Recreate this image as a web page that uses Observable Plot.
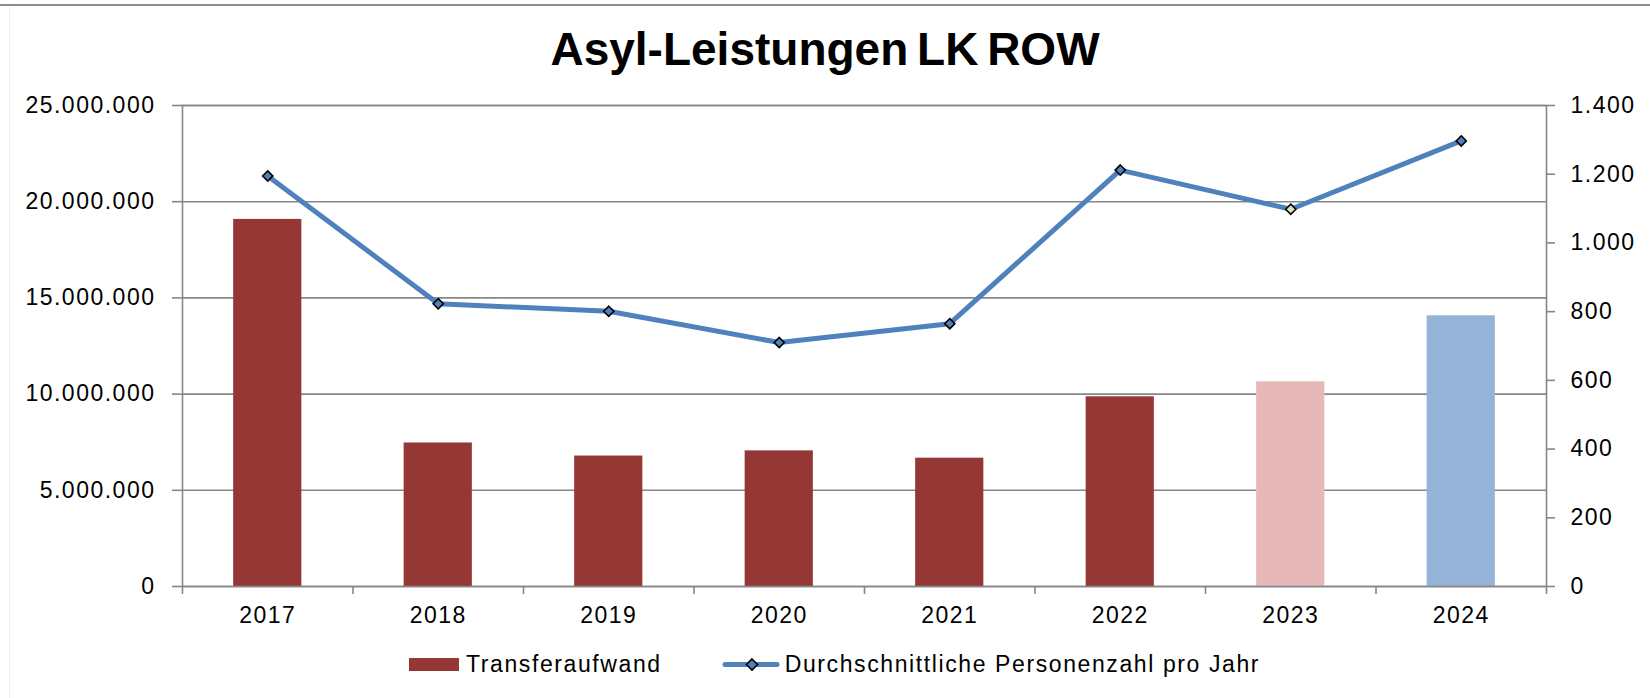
<!DOCTYPE html>
<html>
<head>
<meta charset="utf-8">
<script src="https://cdn.jsdelivr.net/npm/d3@7"></script>
<script src="https://cdn.jsdelivr.net/npm/@observablehq/plot@0.6"></script>
<style>
  body { margin: 0; background: #fff; font-family: "Liberation Sans", Arial, sans-serif; }
  #wrap { position: relative; width: 1650px; height: 698px; overflow: hidden; background: #fff; }
  #topline { position: absolute; left: 0; top: 4px; width: 1650px; height: 2px; background: #8c8c8c; }
  #leftline { position: absolute; left: 9px; top: 6px; width: 1px; height: 692px; background: #f0f0f0; }
  #title { position: absolute; left: 0; top: 26px; width: 1650px; text-align: center; font-size: 46px; line-height: 46px; font-weight: bold; letter-spacing: 0px; word-spacing: -4px; color: #000; }
  #chart { position: absolute; left: 0; top: 80px; }
  #chart svg text { letter-spacing: 1.5px; }
  #legend { position: absolute; left: 409px; top: 653px; height: 23px; display: flex; align-items: center; font-size: 23px; line-height: 23px; letter-spacing: 1.6px; color: #000; white-space: nowrap; }
  .swatch { width: 50px; height: 13px; background: #953735; margin-right: 7px; }
  .gap { width: 60px; }
</style>
</head>
<body>
<div id="wrap">
  <div id="topline"></div>
  <div id="leftline"></div>
  <div id="title">Asyl-Leistungen LK ROW</div>
  <div id="chart"></div>
  <div id="legend"></div>
</div>
<script>
// ---- data ----
const years = ["2017", "2018", "2019", "2020", "2021", "2022", "2023", "2024"];
const transferaufwand = [19080000, 7460000, 6780000, 7050000, 6670000, 9860000, 10640000, 14070000];
const personen = [1195, 823, 801, 710, 765, 1212, 1098, 1297];
const status = ["ist", "ist", "ist", "ist", "ist", "ist", "vorlaeufig", "plan"];
const leftTicks = [0, 5000000, 10000000, 15000000, 20000000, 25000000];
const rightTicks = [0, 200, 400, 600, 800, 1000, 1200, 1400];
const seriesNames = ["Transferaufwand", "Durchschnittliche Personenzahl pro Jahr"];

// ---- styles ----
const barColor = { ist: "#953735", vorlaeufig: "#E6B9B8", plan: "#95B3D7" };
const markerColor = { ist: "#4F81BD", vorlaeufig: "#D7E4BD", plan: "#4F81BD" };
const lineColor = "#4F81BD";
const gridColor = "#878787";

const W = 1650, H = 560, mL = 182, mR = 104, mT = 25, mB = 54;
const leftMax = 25000000, rightMax = 1400;
const k = leftMax / rightMax; // right-axis value -> left-axis units
const step = (W - mL - mR) / years.length;

const fmt = d3.formatLocale({ decimal: ",", thousands: ".", grouping: [3], currency: ["", "€"] }).format(",d");

const rows = years.map((y, i) => ({ year: y, transfer: transferaufwand[i], persons: personen[i], status: status[i] }));

const chart = Plot.plot({
  width: W, height: H,
  marginLeft: mL, marginRight: mR, marginTop: mT, marginBottom: mB,
  style: { fontFamily: "Liberation Sans, Arial, sans-serif", fontSize: "23px", color: "#000", background: "transparent" },
  x: { domain: years, paddingInner: 0.6, paddingOuter: 0.3, round: false, axis: null },
  y: { domain: [0, leftMax], axis: null },
  color: { type: "identity" },
  marks: [
    Plot.ruleY(leftTicks, { stroke: gridColor, strokeWidth: 1.6 }),
    Plot.barY(rows, { x: "year", y: "transfer", fill: d => barColor[d.status] }),
    Plot.frame({ stroke: gridColor, strokeWidth: 1.6 }),
    Plot.ruleX(years, { x: d => d, y1: 0, y2: 0, dx: -step / 2, insetBottom: -8, stroke: gridColor, strokeWidth: 1.6 }),
    Plot.ruleX([years[years.length - 1]], { x: d => d, y1: 0, y2: 0, dx: step / 2, insetBottom: -8, stroke: gridColor, strokeWidth: 1.6 }),
    Plot.axisY({ anchor: "left", ticks: leftTicks, tickFormat: fmt, tickSize: 10, tickPadding: 17, stroke: gridColor, fill: "#000", strokeWidth: 1.6, label: null, fontSize: 23 }),
    Plot.axisY({ anchor: "right", ticks: rightTicks.map(v => v * k), tickFormat: v => fmt(Math.round(v / k)), tickSize: 8, tickPadding: 16, stroke: gridColor, fill: "#000", strokeWidth: 1.6, label: null, fontSize: 23 }),
    Plot.axisX({ tickSize: 0, tickPadding: 20, fill: "#000", label: null, fontSize: 23 }),
    Plot.lineY(rows, { x: "year", y: d => d.persons * k, stroke: lineColor, strokeWidth: 5, strokeLinejoin: "round", strokeLinecap: "round" }),
    Plot.dot(rows, { x: "year", y: d => d.persons * k, symbol: "diamond2", r: 4.6, fill: d => markerColor[d.status], stroke: "#000", strokeWidth: 1.6 })
  ]
});
document.getElementById("chart").appendChild(chart);

// ---- legend ----
const legend = document.getElementById("legend");
legend.innerHTML =
  `<div class="swatch"></div><span>${seriesNames[0]}</span><div class="gap"></div>` +
  `<svg width="60" height="23" style="margin-right:3px"><line x1="3" y1="11.5" x2="55" y2="11.5" stroke="${lineColor}" stroke-width="5" stroke-linecap="round"/>` +
  `<path d="M30,6 L35.5,11.5 L30,17 L24.5,11.5 Z" fill="${lineColor}" stroke="#000" stroke-width="1.6"/></svg>` +
  `<span>${seriesNames[1]}</span>`;
</script>
</body>
</html>
